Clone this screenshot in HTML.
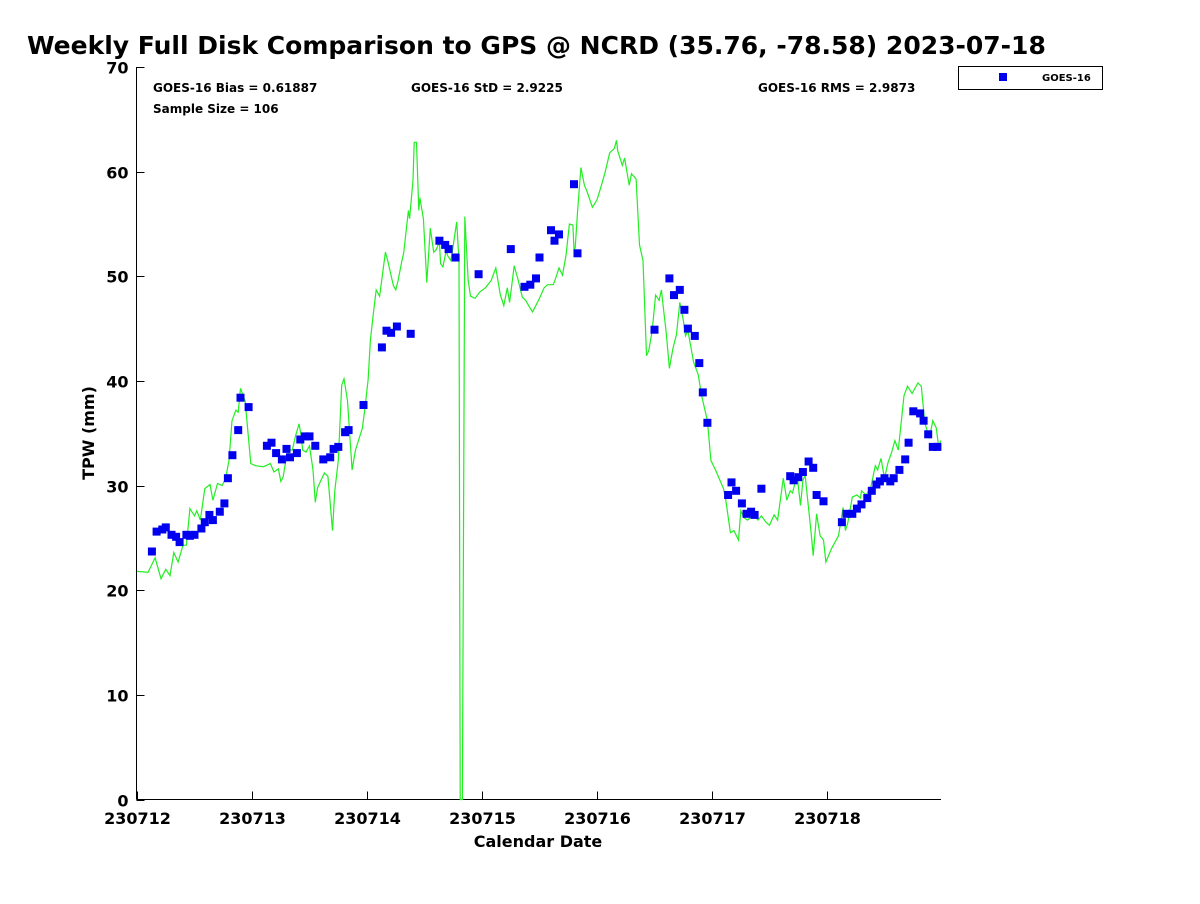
<!DOCTYPE html>
<html><head><meta charset="utf-8"><style>
body{margin:0;background:#fff;width:1200px;height:900px;overflow:hidden;font-family:"DejaVu Sans","Liberation Sans",sans-serif}
svg text{font-family:"DejaVu Sans","Liberation Sans",sans-serif}
</style></head><body>
<svg id="chart" width="1200" height="900" xmlns="http://www.w3.org/2000/svg">
<rect width="1200" height="900" fill="#fff"/>
<text x="27" y="54" font-size="25" font-weight="bold" fill="#000">Weekly Full Disk Comparison to GPS @ NCRD (35.76, -78.58) 2023-07-18</text>
<g id="axes"></g>
<g id="series"></g>
<text x="153" y="92" font-size="12" font-weight="bold">GOES-16 Bias = 0.61887</text>
<text x="411" y="92" font-size="12" font-weight="bold">GOES-16 StD = 2.9225</text>
<text x="758" y="92" font-size="12" font-weight="bold">GOES-16 RMS = 2.9873</text>
<text x="153" y="113" font-size="12" font-weight="bold">Sample Size = 106</text>
<text x="538" y="847" font-size="16" font-weight="bold" text-anchor="middle">Calendar Date</text>
<text transform="translate(94,433) rotate(-90)" font-size="16" font-weight="bold" text-anchor="middle">TPW (mm)</text>
<g>
<rect x="958.5" y="66.5" width="144" height="23" fill="#fff" stroke="#000" stroke-width="1"/>
<rect x="999" y="73" width="8" height="8" fill="#0000ee"/>
<text x="1042" y="81" font-size="10" font-weight="bold">GOES-16</text>
</g>
</svg>
<script>
const xTickLabels=["230712","230713","230714","230715","230716","230717","230718"];
const yTicks=[0,10,20,30,40,50,60,70];
const lineDays=[0,0.096,0.157,0.209,0.25,0.287,0.32,0.357,0.4,0.43,0.46,0.5,0.52,0.55,0.59,0.635,0.66,0.70,0.74,0.77,0.8,0.826,0.86,0.88,0.90,0.94,0.99,1.03,1.10,1.16,1.19,1.23,1.25,1.27,1.30,1.33,1.35,1.38,1.41,1.43,1.44,1.47,1.50,1.53,1.55,1.57,1.60,1.63,1.66,1.70,1.72,1.75,1.78,1.80,1.83,1.87,1.90,1.94,1.96,1.98,2.01,2.03,2.06,2.08,2.11,2.16,2.18,2.23,2.25,2.27,2.30,2.32,2.36,2.37,2.40,2.41,2.43,2.45,2.46,2.49,2.52,2.55,2.58,2.60,2.63,2.64,2.66,2.69,2.70,2.73,2.75,2.78,2.80,2.81,2.83,2.85,2.88,2.90,2.94,2.98,3.03,3.08,3.12,3.16,3.19,3.22,3.24,3.28,3.31,3.35,3.38,3.41,3.44,3.50,3.54,3.57,3.62,3.64,3.67,3.70,3.73,3.76,3.79,3.80,3.81,3.83,3.86,3.89,3.91,3.96,4.0,4.03,4.07,4.11,4.15,4.17,4.18,4.22,4.24,4.28,4.30,4.34,4.37,4.40,4.43,4.45,4.48,4.51,4.54,4.56,4.58,4.60,4.63,4.66,4.69,4.72,4.75,4.77,4.79,4.84,4.88,4.91,4.96,4.99,5.03,5.10,5.12,5.16,5.19,5.23,5.25,5.28,5.31,5.36,5.40,5.43,5.47,5.50,5.54,5.57,5.62,5.65,5.68,5.70,5.74,5.77,5.79,5.81,5.86,5.88,5.91,5.94,5.97,5.99,6.04,6.10,6.14,6.16,6.18,6.22,6.26,6.29,6.30,6.34,6.38,6.42,6.44,6.47,6.50,6.53,6.56,6.59,6.62,6.67,6.70,6.74,6.79,6.82,6.85,6.89,6.92,6.95,6.97,6.99];
const lineVals=[21.8,21.7,23.1,21.1,22.0,21.4,23.6,22.7,24.3,24.3,27.8,27.1,27.6,26.7,29.7,30.1,28.6,30.2,30.0,30.7,32.4,36.2,37.2,37.0,39.3,38.1,32.1,31.9,31.8,32.1,31.3,31.6,30.4,30.8,32.8,33.4,33.4,34.8,35.9,34.6,33.4,33.2,33.8,31.5,28.4,29.8,30.5,31.2,30.9,25.7,29.5,32.4,39.6,40.2,38.1,31.5,33.4,34.8,35.5,37.2,40.1,43.9,46.9,48.7,48.1,52.3,51.5,49.1,48.7,49.6,51.3,52.3,56.3,55.5,59.2,62.8,62.8,56.3,57.5,55.5,49.4,54.6,52.3,52.5,53.3,51.2,50.9,52.5,52.0,51.5,53.0,55.2,51.5,0,0,55.7,49.6,48.1,47.9,48.5,48.9,49.6,50.8,48.2,47.2,48.9,47.5,51.0,49.8,48.0,47.7,47.1,46.6,47.9,48.9,49.2,49.2,49.8,50.8,50.1,52.0,55.0,54.9,52.5,52.7,56.1,60.4,58.7,58.2,56.6,57.3,58.4,59.9,61.8,62.2,63.0,62.0,60.6,61.3,58.7,59.8,59.3,53.0,51.5,42.4,42.9,44.8,48.2,47.7,48.7,46.7,44.8,41.2,43.1,44.4,47.5,45.8,44.3,44.8,41.8,40.6,38.6,36.2,32.4,31.5,29.7,28.6,25.5,25.7,24.8,27.6,26.9,26.7,27.2,26.7,27.1,26.5,26.2,27.2,26.7,30.7,28.6,29.5,29.3,31.0,28.1,30.5,31.0,25.7,23.3,27.3,25.2,24.8,22.7,24.0,25.2,27.9,25.7,26.4,28.9,29.1,28.8,29.5,29.1,29.8,31.9,31.5,32.6,30.7,32.2,33.1,34.3,33.4,38.6,39.5,38.8,39.8,39.5,36.0,34.5,36.2,35.5,33.8,34.3];
const goesDays=[0.13,0.17,0.22,0.25,0.30,0.34,0.37,0.43,0.46,0.50,0.56,0.59,0.63,0.66,0.72,0.76,0.79,0.83,0.88,0.90,0.97,1.13,1.17,1.21,1.26,1.30,1.33,1.39,1.42,1.46,1.50,1.55,1.62,1.68,1.71,1.75,1.81,1.84,1.97,2.13,2.17,2.21,2.26,2.38,2.63,2.68,2.71,2.77,2.97,3.25,3.37,3.42,3.47,3.50,3.60,3.63,3.67,3.80,3.83,4.50,4.63,4.67,4.72,4.76,4.79,4.85,4.89,4.92,4.96,5.14,5.17,5.21,5.26,5.30,5.34,5.37,5.43,5.68,5.71,5.75,5.79,5.84,5.88,5.91,5.97,6.13,6.17,6.22,6.26,6.30,6.35,6.39,6.43,6.46,6.50,6.55,6.58,6.63,6.68,6.71,6.75,6.81,6.84,6.88,6.92,6.96];
const goesVals=[23.7,25.6,25.8,26.0,25.3,25.1,24.6,25.3,25.2,25.3,25.9,26.5,27.2,26.7,27.5,28.3,30.7,32.9,35.3,38.4,37.5,33.8,34.1,33.1,32.5,33.5,32.7,33.1,34.4,34.7,34.7,33.8,32.5,32.7,33.5,33.7,35.1,35.3,37.7,43.2,44.8,44.6,45.2,44.5,53.4,53.0,52.6,51.8,50.2,52.6,49.0,49.2,49.8,51.8,54.4,53.4,54.0,58.8,52.2,44.9,49.8,48.2,48.7,46.8,45.0,44.3,41.7,38.9,36.0,29.1,30.3,29.5,28.3,27.3,27.5,27.2,29.7,30.9,30.5,30.8,31.3,32.3,31.7,29.1,28.5,26.5,27.3,27.3,27.8,28.2,28.8,29.5,30.1,30.4,30.7,30.4,30.7,31.5,32.5,34.1,37.1,36.9,36.2,34.9,33.7,33.7];

const NS="http://www.w3.org/2000/svg";
const L=136.5,R=941,T=67,B=799.5;
const xs=d=>137+d*115;
const ys=v=>B-(v/70)*(B-T);
function mk(tag,attrs,parent){const e=document.createElementNS(NS,tag);for(const k in attrs)e.setAttribute(k,attrs[k]);parent.appendChild(e);return e;}
const ax=document.getElementById('axes');
let yl=mk('line',{x1:L,y1:T,x2:L,y2:B,stroke:'#000','stroke-width':1},ax);


let xl=mk('line',{x1:L,y1:B,x2:R,y2:B,stroke:'#000','stroke-width':1},ax);


yTicks.forEach(v=>{const y=Math.round(ys(v))+0.5;
mk('line',{x1:L,y1:y,x2:L+8,y2:y,stroke:'#000'},ax);
const t=mk('text',{x:L-8,y:y+6,'font-size':16,'font-weight':'bold','text-anchor':'end'},ax);t.textContent=v;

});
xTickLabels.forEach((s,i)=>{const x=Math.round(xs(i))+0.5;
mk('line',{x1:x,y1:B,x2:x,y2:B-8,stroke:'#000'},ax);
const t=mk('text',{x:x,y:824,'font-size':16,'font-weight':'bold','text-anchor':'middle'},ax);t.textContent=s;

});
const sg=document.getElementById('series');
const pl=mk('polyline',{points:lineDays.map((d,i)=>xs(d).toFixed(1)+','+ys(lineVals[i]).toFixed(1)).join(' '),fill:'none',stroke:'#22ee22','stroke-width':1.2},sg);


goesDays.forEach((d,i)=>{const r=mk('rect',{x:(xs(d)-4).toFixed(1),y:(ys(goesVals[i])-4).toFixed(1),width:8,height:8,fill:'#0000ee'},sg);

});
</script>
</body></html>
